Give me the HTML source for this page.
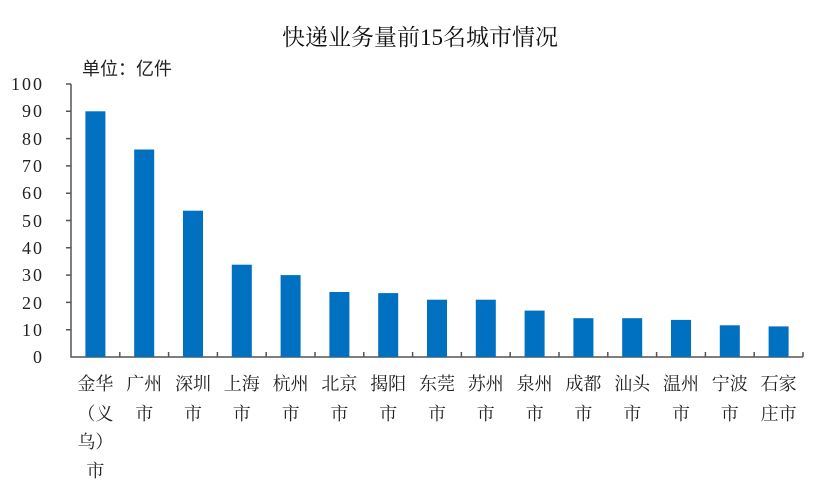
<!DOCTYPE html>
<html><head><meta charset="utf-8"><style>
body{margin:0;background:#fff;width:820px;height:492px;overflow:hidden}
svg text{font-family:"Liberation Serif","Noto Serif CJK SC",serif}
.c{font-family:"Liberation Sans","Noto Sans CJK SC",sans-serif;font-size:18px;fill:#222}
</style></head><body>
<svg width="820" height="492" xmlns="http://www.w3.org/2000/svg">
<text x="420" y="45" text-anchor="middle" font-size="23" fill="#111">快递业务量前15名城市情况</text>
<text x="82" y="75" class="c" font-size="18">单位：亿件</text>
<g font-size="18" fill="#222" text-anchor="end" letter-spacing="2">
<text x="44" y="363">0</text><text x="44" y="336">10</text><text x="44" y="309">20</text><text x="44" y="281">30</text><text x="44" y="254">40</text><text x="44" y="227">50</text><text x="44" y="199">60</text><text x="44" y="172">70</text><text x="44" y="145">80</text><text x="44" y="117">90</text><text x="44" y="90">100</text>
</g>
<g stroke="#555" stroke-width="1.5" fill="none">
<path d="M71 84V357H803"/>
<path d="M66 84H71M66 111.3H71M66 138.6H71M66 165.9H71M66 193.2H71M66 220.5H71M66 247.8H71M66 275.1H71M66 302.4H71M66 329.7H71"/>
<path d="M119.8 357v-5M168.6 357v-5M217.4 357v-5M266.2 357v-5M315 357v-5M363.8 357v-5M412.6 357v-5M461.4 357v-5M510.2 357v-5M559 357v-5M607.8 357v-5M656.6 357v-5M705.4 357v-5M754.2 357v-5M803 357v-5"/>
</g>
<g fill="#0070c0">
<rect x="85.4" y="111.3" width="20" height="245.7"/>
<rect x="134.2" y="149.5" width="20" height="207.5"/>
<rect x="183" y="210.7" width="20" height="146.3"/>
<rect x="231.8" y="264.7" width="20" height="92.3"/>
<rect x="280.6" y="275.1" width="20" height="81.9"/>
<rect x="329.4" y="292" width="20" height="65"/>
<rect x="378.2" y="293.1" width="20" height="63.9"/>
<rect x="427" y="299.7" width="20" height="57.3"/>
<rect x="475.8" y="299.7" width="20" height="57.3"/>
<rect x="524.6" y="310.6" width="20" height="46.4"/>
<rect x="573.4" y="318.2" width="20" height="38.8"/>
<rect x="622.2" y="318.2" width="20" height="38.8"/>
<rect x="671" y="319.9" width="20" height="37.1"/>
<rect x="719.8" y="325.3" width="20" height="31.7"/>
<rect x="768.6" y="326.4" width="20" height="30.6"/>
</g>
<g class="c" text-anchor="middle" font-size="19">
<text x="95.4" y="390">金华</text><text x="95.4" y="420">（义</text><text x="95.4" y="448">乌）</text><text x="95.4" y="477">市</text>
<text x="144.2" y="390">广州</text><text x="144.2" y="420">市</text>
<text x="193" y="390">深圳</text><text x="193" y="420">市</text>
<text x="241.8" y="390">上海</text><text x="241.8" y="420">市</text>
<text x="290.6" y="390">杭州</text><text x="290.6" y="420">市</text>
<text x="339.4" y="390">北京</text><text x="339.4" y="420">市</text>
<text x="388.2" y="390">揭阳</text><text x="388.2" y="420">市</text>
<text x="437" y="390">东莞</text><text x="437" y="420">市</text>
<text x="485.8" y="390">苏州</text><text x="485.8" y="420">市</text>
<text x="534.6" y="390">泉州</text><text x="534.6" y="420">市</text>
<text x="583.4" y="390">成都</text><text x="583.4" y="420">市</text>
<text x="632.2" y="390">汕头</text><text x="632.2" y="420">市</text>
<text x="681" y="390">温州</text><text x="681" y="420">市</text>
<text x="729.8" y="390">宁波</text><text x="729.8" y="420">市</text>
<text x="778.6" y="390">石家</text><text x="778.6" y="420">庄市</text>
</g>
</svg>
</body></html>
